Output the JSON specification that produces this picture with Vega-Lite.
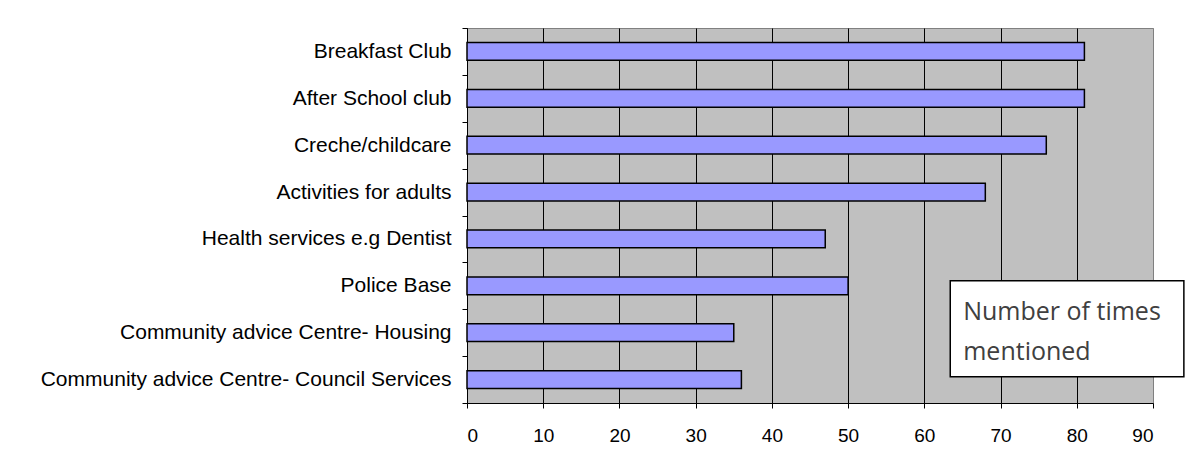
{
  "$schema": "https://vega.github.io/schema/vega-lite/v6.json",
  "autosize": {"type": "none"},
  "width": 686,
  "height": 375,
  "padding": {"left": 467, "top": 28, "right": 32, "bottom": 72},
  "background": "white",
  "config": {
    "view": {"fill": "#C0C0C0", "stroke": "#808080", "strokeWidth": 1},
    "axis": {"labelFont": "Liberation Sans", "labelFontSize": 19, "labelColor": "black", "domainColor": "black", "tickColor": "black", "tickSize": 5, "title": null}
  },
  "data": {"values": [
    {"facility": "Breakfast Club", "count": 81},
    {"facility": "After School club", "count": 81},
    {"facility": "Creche/childcare", "count": 76},
    {"facility": "Activities for adults", "count": 68},
    {"facility": "Health services e.g Dentist", "count": 47},
    {"facility": "Police Base", "count": 50},
    {"facility": "Community advice Centre- Housing", "count": 35},
    {"facility": "Community advice Centre- Council Services", "count": 36}
  ]},
  "layer": [
    {
      "mark": {"type": "bar", "fill": "#9999FF", "stroke": "black", "strokeWidth": 1.5, "height": {"band": 0.38}},
      "encoding": {
        "y": {"field": "facility", "type": "nominal", "sort": null,
              "scale": {"paddingInner": 0, "paddingOuter": 0},
              "axis": {"tickBand": "extent", "labelPadding": 11, "grid": false, "labelLimit": 460, "labelFontSize": 21}},
        "x": {"field": "count", "type": "quantitative",
              "scale": {"domain": [0, 90], "nice": false},
              "axis": {"values": [0,10,20,30,40,50,60,70,80,90], "grid": true,
                       "gridColor": {"condition": {"test": "datum.value == 90", "value": "#808080"}, "value": "black"},
                       "gridWidth": 1, "labelPadding": 18}}
      }
    },
    {
      "data": {"values": [{}]},
      "mark": {"type": "bar", "fill": "white", "stroke": "black", "strokeWidth": 1.5, "height": 96, "yOffset": -4, "clip": false},
      "encoding": {
        "y": {"datum": "Community advice Centre- Housing", "type": "nominal"},
        "x": {"datum": 63.4, "type": "quantitative"},
        "x2": {"datum": 94.05}
      }
    },
    {
      "data": {"values": [{}]},
      "mark": {"type": "text", "text": ["Number of times", "mentioned"], "align": "left", "baseline": "middle", "dy": -21,
               "font": "Open Sans", "fontSize": 25, "lineHeight": 40, "color": "#404040"},
      "encoding": {
        "y": {"datum": "Community advice Centre- Housing", "type": "nominal"},
        "x": {"datum": 65.1, "type": "quantitative"}
      }
    }
  ]
}
